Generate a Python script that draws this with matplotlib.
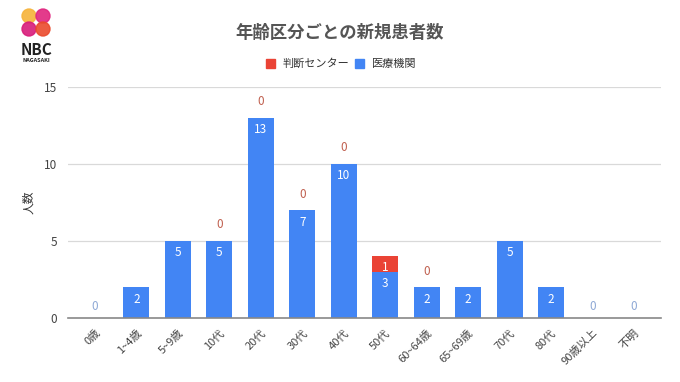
import matplotlib.pyplot as plt
from matplotlib.patches import Circle

plt.rcParams['font.family'] = ['Noto Sans CJK JP', 'DejaVu Sans']

# Data
categories = ["0歳", "1~4歳", "5~9歳", "10代", "20代", "30代", "40代", "50代",
              "60~64歳", "65~69歳", "70代", "80代", "90歳以上", "不明"]
hospital = [0, 2, 5, 5, 13, 7, 10, 3, 2, 2, 5, 2, 0, 0]
# None = no value shown for 判断センター
center = [None, None, None, 0, 0, 0, 0, 1, 0, None, None, None, None, None]

blue = "#4285f4"
red = "#ea4335"

fig = plt.figure(figsize=(6.8, 3.82), dpi=100)
ax = fig.add_axes([68 / 680, (382 - 318) / 382, (661 - 68) / 680, (318 - 87) / 382])

x = list(range(len(categories)))
w = 0.63
ax.bar(x, hospital, width=w, color=blue, zorder=2)
center_vals = [c if c is not None else 0 for c in center]
ax.bar(x, center_vals, width=w, bottom=hospital, color=red, zorder=2)

# Labels
for i in x:
    h = hospital[i]
    if h > 0:
        ax.text(i, h - 0.35, str(h), ha="center", va="top", color="white", fontsize=8.5)
    else:
        ax.text(i, 0.75, "0", ha="center", va="center", color="#8fa9d6", fontsize=8.5)
    c = center[i]
    if c is None:
        continue
    if c > 0:
        ax.text(i, h + c - 0.3, str(c), ha="center", va="top", color="white", fontsize=8.5)
    else:
        ax.text(i, h + 1.05, "0", ha="center", va="center", color="#c0604f", fontsize=8.5)

ax.set_xlim(-0.65, len(categories) - 1 + 0.65)
ax.set_ylim(0, 15)
ax.set_yticks([0, 5, 10, 15])
ax.yaxis.grid(True, color="#d9d9d9", linewidth=0.9, zorder=0)
ax.set_axisbelow(True)
for s in ["top", "right", "left"]:
    ax.spines[s].set_visible(False)
ax.spines["bottom"].set_color("#888888")
ax.spines["bottom"].set_linewidth(1.2)
ax.tick_params(axis="both", length=0, labelsize=8.5, labelcolor="#444444")
ax.tick_params(axis="y", pad=8)
ax.tick_params(axis="x", pad=7)
ax.set_xticks(x)
ax.set_xticklabels(categories, rotation=45, ha="right", rotation_mode="anchor", fontsize=8)
ax.set_ylabel("人数", fontsize=8.5, color="#333333", labelpad=6)

# Title and legend
fig.text(0.5, 1 - 33 / 382, "年齢区分ごとの新規患者数", ha="center", va="center",
         fontsize=12.5, color="#555555", fontweight="bold")
fig.patches.append(plt.Rectangle((266 / 680, 1 - 68 / 382), 9 / 680, 9 / 382,
                                 color=red, transform=fig.transFigure))
fig.text(283 / 680, 1 - 63.5 / 382, "判断センター", ha="left", va="center", fontsize=8, color="#333333")
fig.patches.append(plt.Rectangle((355 / 680, 1 - 68 / 382), 9 / 680, 9 / 382,
                                 color=blue, transform=fig.transFigure))
fig.text(372 / 680, 1 - 63.5 / 382, "医療機関", ha="left", va="center", fontsize=8, color="#333333")

# Logo
lax = fig.add_axes([18 / 680, 1 - 40 / 382, 36 / 680, 36 / 382])
lax.set_xlim(0, 36)
lax.set_ylim(36, 0)
lax.axis("off")
logo_circles = [(11, 12, "#f6b33a"), (25, 12, "#e0257f"), (11, 25, "#d81c7a"), (25, 25, "#ea4a2c")]
for cx, cy, col in logo_circles:
    lax.add_patch(Circle((cx, cy), 7, color=col, alpha=0.9))
fig.text(36 / 680, 1 - 50 / 382, "NBC", ha="center", va="center", fontsize=11,
         color="#222222", fontweight="bold")
fig.text(36 / 680, 1 - 60 / 382, "NAGASAKI", ha="center", va="center", fontsize=4,
         color="#222222", fontweight="bold")

fig.savefig("out.png", dpi=100)
